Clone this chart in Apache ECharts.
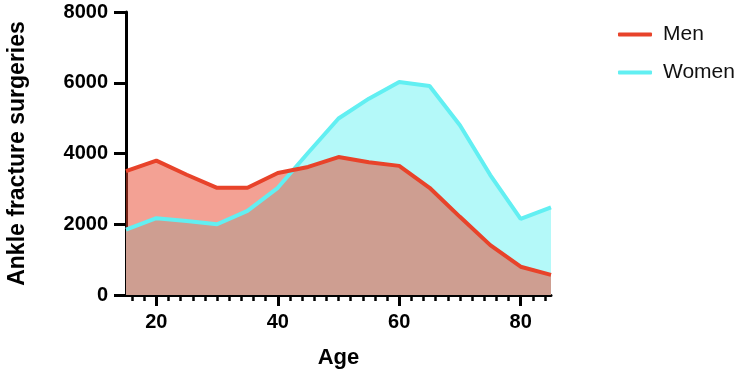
<!DOCTYPE html>
<html>
<head>
<meta charset="utf-8">
<script src="https://cdn.jsdelivr.net/npm/echarts@6/dist/echarts.min.js"></script>
<style>
  html, body { margin: 0; padding: 0; background: #fff; }
  #chart { width: 744px; height: 374px; }
</style>
</head>
<body>
<div id="chart"></div>
<script>
// ages sampled every 5 years
const ages = [15, 20, 25, 30, 35, 40, 45, 50, 55, 60, 65, 70, 75, 80, 85];
const men = [3500, 3800, 3400, 3030, 3030, 3450, 3620, 3900, 3750, 3650, 3030, 2210, 1410, 800, 570];
const women = [1850, 2170, 2090, 2000, 2380, 3030, 4020, 4990, 5550, 6020, 5910, 4800, 3390, 2150, 2480];

const yTicks = [0, 2000, 4000, 6000, 8000];
const xMajor = [20, 40, 60, 80];
const xMinor = [16, 18, 20, 22, 24, 26, 28, 30, 32, 34, 36, 38, 40, 42, 44, 46, 48, 50,
  52, 54, 56, 58, 60, 62, 64, 66, 68, 70, 72, 74, 76, 78, 80, 82, 84];

const menColor = '#e8432a';
const womenLine = '#62eff2';
const womenFill = '#b4f9f9';
const font = 'Liberation Sans, Arial, Helvetica, sans-serif';

const pairs = (vals) => ages.map((a, i) => [a, vals[i]]);

const chart = echarts.init(document.getElementById('chart'), null, { renderer: 'canvas' });

const option = {
  animation: false,
  grid: { left: 126, right: 193, top: 12, bottom: 79, containLabel: false, outerBoundsMode: 'none' },
  legend: {
    orient: 'vertical',
    left: 613,
    top: 19,
    itemGap: 17,
    itemWidth: 34,
    itemHeight: 4,
    icon: 'roundRect',
    data: [
      { name: 'Men', itemStyle: { color: menColor } },
      { name: 'Women', itemStyle: { color: womenLine } }
    ],
    textStyle: { fontFamily: font, fontSize: 21, color: '#111', padding: [0, 0, 0, 6] }
  },
  xAxis: [
    {
      type: 'value',
      min: 15,
      max: 85,
      name: 'Age',
      nameLocation: 'middle',
      nameGap: 52,
      nameTextStyle: { fontFamily: font, fontSize: 22, fontWeight: 'bold', color: '#000' },
      splitLine: { show: false },
      axisLine: { show: true, lineStyle: { color: '#000', width: 3 } },
      axisTick: { show: true, length: 11, customValues: xMajor, lineStyle: { color: '#000', width: 3 } },
      axisLabel: { customValues: xMajor, margin: 17, fontFamily: font, fontSize: 20, fontWeight: 'bold', color: '#000' }
    },
    {
      type: 'value',
      min: 15,
      max: 85,
      position: 'bottom',
      splitLine: { show: false },
      axisLine: { show: false },
      axisTick: { show: true, length: 6, customValues: xMinor, lineStyle: { color: '#000', width: 2.5 } },
      axisLabel: { show: false }
    }
  ],
  yAxis: {
    type: 'value',
    min: 0,
    max: 8000,
    interval: 2000,
    name: 'Ankle fracture surgeries',
    nameLocation: 'middle',
    nameGap: 97,
    nameTextStyle: { fontFamily: font, fontSize: 23, fontWeight: 'bold', color: '#000' },
    splitLine: { show: false },
    axisLine: { show: true, lineStyle: { color: '#000', width: 3 } },
    axisTick: { show: true, length: 12, customValues: yTicks, lineStyle: { color: '#000', width: 3 } },
    axisLabel: {
      margin: 18,
      fontFamily: font,
      fontSize: 20,
      fontWeight: 'bold',
      color: '#000',
      formatter: (v) => String(v)
    }
  },
  series: [
    {
      name: 'Women area',
      type: 'line',
      data: pairs(women),
      showSymbol: false,
      lineStyle: { width: 0 },
      areaStyle: { color: womenFill, opacity: 1 },
      z: 1
    },
    {
      name: 'Men area',
      type: 'line',
      data: pairs(men),
      showSymbol: false,
      lineStyle: { width: 0 },
      areaStyle: { color: menColor, opacity: 0.5 },
      z: 2
    },
    {
      name: 'Women',
      type: 'line',
      data: pairs(women),
      showSymbol: false,
      color: womenLine,
      lineStyle: { width: 4, color: womenLine },
      z: 3
    },
    {
      name: 'Men',
      type: 'line',
      data: pairs(men),
      showSymbol: false,
      color: menColor,
      lineStyle: { width: 4, color: menColor },
      z: 4
    }
  ]
};

chart.setOption(option);
</script>
</body>
</html>
